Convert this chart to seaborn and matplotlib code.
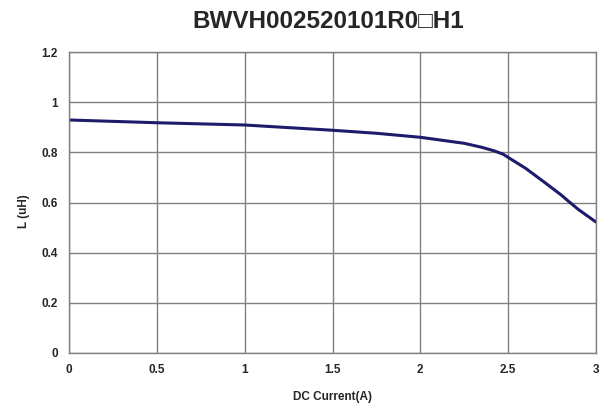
import numpy as np
import pandas as pd
import matplotlib
matplotlib.use("Agg")
import matplotlib.pyplot as plt
import seaborn as sns
from matplotlib.ticker import FuncFormatter

# DC bias curve
current = [0, 0.5, 1.0, 1.5, 1.75, 2.0, 2.25, 2.35, 2.42, 2.47, 2.52, 2.6, 2.7, 2.8, 2.85, 2.9, 3.0]
inductance = [0.929, 0.918, 0.909, 0.888, 0.876, 0.860, 0.836, 0.820, 0.806, 0.793, 0.771,
              0.736, 0.684, 0.631, 0.601, 0.572, 0.522]

x_ticks = [0, 0.5, 1, 1.5, 2, 2.5, 3]
y_ticks = [0, 0.2, 0.4, 0.6, 0.8, 1.0, 1.2]

df = pd.DataFrame({"DC Current(A)": current, "L (uH)": inductance})

sns.set_style("white")
plt.rcParams['font.family'] = ['Liberation Sans', 'DejaVu Sans']

fig = plt.figure(figsize=(6.01, 4.07), dpi=100)
ax = fig.add_axes([0.1148, 0.1327, 0.8769, 0.7395])

sns.lineplot(data=df, x="DC Current(A)", y="L (uH)", ax=ax,
             color="#1c1c6b", linewidth=2.2)

ax.set_xlim(0, 3)
ax.set_ylim(0, 1.2)
ax.set_xticks(x_ticks)
ax.set_yticks(y_ticks)
fmt = FuncFormatter(lambda v, p: ("%g" % round(v, 2)))
ax.xaxis.set_major_formatter(fmt)
ax.yaxis.set_major_formatter(fmt)
ax.grid(True, color="#808080", linewidth=1)
ax.set_axisbelow(True)
for s in ax.spines.values():
    s.set_color("#808080")
    s.set_linewidth(1)
ax.tick_params(length=0, labelsize=8.5, pad=8)
for lab in ax.get_xticklabels() + ax.get_yticklabels():
    lab.set_fontweight("bold")

ax.set_xlabel("DC Current(A)", fontsize=8.5, fontweight="bold", labelpad=11)
ax.set_ylabel("L (uH)", fontsize=8.5, fontweight="bold")
ax.yaxis.set_label_coords(-0.074, 0.47)
fig.text(0.546, 0.948, "BWVH002520101R0\u25a1H1", ha="center", va="center",
         fontsize=17.5, fontweight="bold", family=['Liberation Sans', 'DejaVu Sans'])

fig.savefig("out.png", dpi=100)
